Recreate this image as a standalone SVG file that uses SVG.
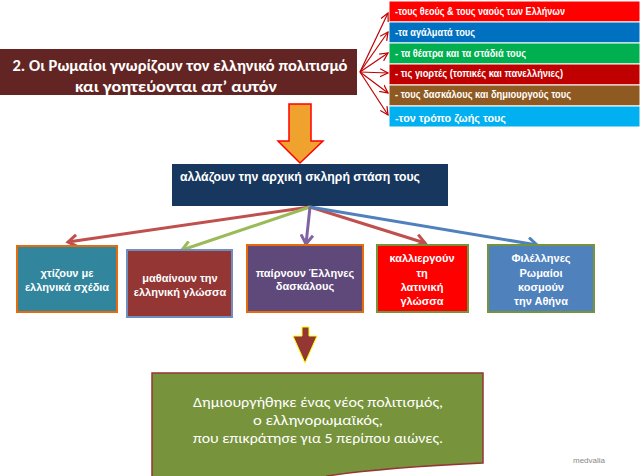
<svg xmlns="http://www.w3.org/2000/svg" width="640" height="476" viewBox="0 0 640 476">
<style>
.lt{font-family:"Liberation Sans Narrow","Liberation Sans",Arial,sans-serif;font-weight:bold;font-size:11px;fill:#fff}
.bt{font-family:"Liberation Sans",Arial,sans-serif;font-weight:bold;font-size:11px;fill:#fff;text-anchor:middle}
.fan{stroke:#C00000;stroke-width:1.2;fill:none}
.conn{stroke-width:3;fill:none}
</style>
<defs>
<marker id="mf" markerUnits="userSpaceOnUse" markerWidth="10" markerHeight="10" refX="8" refY="4" orient="auto" viewBox="0 0 10 8">
<path d="M0,0 L8,4 L0,8" fill="none" stroke="#C00000" stroke-width="1.2"/>
</marker>
<marker id="mr" markerUnits="userSpaceOnUse" markerWidth="14" markerHeight="14" refX="11" refY="7" orient="auto" viewBox="0 0 14 14">
<path d="M2,1 L11,7 L2,13" fill="none" stroke="#C0504D" stroke-width="3"/>
</marker>
<marker id="mg" markerUnits="userSpaceOnUse" markerWidth="14" markerHeight="14" refX="11" refY="7" orient="auto" viewBox="0 0 14 14">
<path d="M2,1 L11,7 L2,13" fill="none" stroke="#9BBB59" stroke-width="3"/>
</marker>
<marker id="mp" markerUnits="userSpaceOnUse" markerWidth="14" markerHeight="14" refX="11" refY="7" orient="auto" viewBox="0 0 14 14">
<path d="M2,1 L11,7 L2,13" fill="none" stroke="#8064A2" stroke-width="3"/>
</marker>
<marker id="mb" markerUnits="userSpaceOnUse" markerWidth="14" markerHeight="14" refX="11" refY="7" orient="auto" viewBox="0 0 14 14">
<path d="M2,1 L11,7 L2,13" fill="none" stroke="#4F81BD" stroke-width="3"/>
</marker>
</defs>
<rect width="640" height="476" fill="#fff"/>

<g id="title">
<rect x="0" y="49" width="357" height="46" fill="#632523"/>
<text x="180" y="71" text-anchor="middle" font-family="Carlito,'Liberation Sans',Arial,sans-serif" font-weight="bold" font-size="15" fill="#fff" textLength="335" lengthAdjust="spacingAndGlyphs">2. Οι Ρωμαίοι γνωρίζουν τον ελληνικό πολιτισμό</text>
<text x="176" y="92" text-anchor="middle" font-family="Carlito,'Liberation Sans',Arial,sans-serif" font-weight="bold" font-size="15" fill="#fff" textLength="202" lengthAdjust="spacingAndGlyphs">και  γοητεύονται απ’ αυτόν</text>
</g>

<g id="list">
<rect x="389" y="1" width="251" height="21" fill="#FF0000" stroke="#fff" stroke-width="1"/>
<rect x="389" y="22" width="251" height="21" fill="#0070C0" stroke="#fff" stroke-width="1"/>
<rect x="389" y="43" width="251" height="21" fill="#00B050" stroke="#fff" stroke-width="1"/>
<rect x="389" y="64" width="251" height="21" fill="#C00000" stroke="#fff" stroke-width="1"/>
<rect x="389" y="85" width="251" height="21" fill="#8F5A22" stroke="#fff" stroke-width="1"/>
<rect x="389" y="106" width="251" height="21" fill="#00B0F0" stroke="#fff" stroke-width="1"/>
<text class="lt" x="395" y="15" textLength="170" lengthAdjust="spacingAndGlyphs">-τους θεούς &amp; τους ναούς των Ελλήνων</text>
<text class="lt" x="395" y="36" textLength="80" lengthAdjust="spacingAndGlyphs">-τα αγάλματά τους</text>
<text class="lt" x="395" y="57" textLength="131" lengthAdjust="spacingAndGlyphs">- τα θέατρα και τα στάδιά τους</text>
<text class="lt" x="395" y="77" textLength="168" lengthAdjust="spacingAndGlyphs">- τις  γιορτές (τοπικές και πανελλήνιες)</text>
<text class="lt" x="395" y="98" textLength="176" lengthAdjust="spacingAndGlyphs">- τους  δασκάλους και δημιουργούς τους</text>
<text class="lt" x="395" y="122" font-size="13" textLength="111" lengthAdjust="spacingAndGlyphs">-τον τρόπο ζωής τους</text>
</g>

<g id="arrow1">
<path d="M289,104 H311 V141 H323 L300,163 L278,141 H289 Z" fill="#F0A22E" stroke="#FF0000" stroke-width="1.5"/>
</g>

<g id="change">
<rect x="172" y="164" width="276" height="42" fill="#17375E"/>
<text x="180" y="181" font-family="'Liberation Sans',Arial,sans-serif" font-weight="bold" font-size="12" fill="#fff" textLength="240" lengthAdjust="spacingAndGlyphs">αλλάζουν την αρχική σκληρή στάση τους</text>
</g>

<g id="connectors">
<line class="fan" x1="360" y1="72" x2="388" y2="13" marker-end="url(#mf)"/>
<line class="fan" x1="360" y1="72" x2="388" y2="32" marker-end="url(#mf)"/>
<line class="fan" x1="360" y1="72" x2="388" y2="53" marker-end="url(#mf)"/>
<line class="fan" x1="360" y1="72" x2="388" y2="73" marker-end="url(#mf)"/>
<line class="fan" x1="360" y1="72" x2="388" y2="93" marker-end="url(#mf)"/>
<line class="fan" x1="360" y1="72" x2="388" y2="115" marker-end="url(#mf)"/>
<line class="conn" stroke="#C0504D" x1="310" y1="207" x2="68" y2="242" marker-end="url(#mr)"/>
<line class="conn" stroke="#9BBB59" x1="310" y1="207" x2="182" y2="250" marker-end="url(#mg)"/>
<line class="conn" stroke="#8064A2" x1="310" y1="207" x2="306" y2="244" marker-end="url(#mp)"/>
<line class="conn" stroke="#C0504D" x1="310" y1="207" x2="425" y2="243" marker-end="url(#mr)"/>
<line class="conn" stroke="#4F81BD" x1="310" y1="207" x2="537" y2="245" marker-end="url(#mb)"/>
</g>

<g id="b1">
<rect x="17" y="246" width="100" height="66" fill="#31859C" stroke="#E46C0A" stroke-width="2"/>
<text class="bt" x="67" y="277">χτίζουν με</text>
<text class="bt" x="67" y="291">ελληνικά σχέδια</text>
</g>
<g id="b2">
<rect x="127" y="250" width="105" height="67" fill="#943634" stroke="#6F8FC0" stroke-width="2"/>
<text class="bt" x="180" y="282">μαθαίνουν την</text>
<text class="bt" x="180" y="296">ελληνική γλώσσα</text>
</g>
<g id="b3">
<rect x="247" y="245" width="116" height="67" fill="#5F497A" stroke="#E46C0A" stroke-width="2"/>
<text class="bt" x="305" y="277">παίρνουν  Έλληνες</text>
<text class="bt" x="305" y="290">δασκάλους</text>
</g>
<g id="b4">
<rect x="377" y="245" width="91" height="67" fill="#FF0000" stroke="#77933C" stroke-width="2"/>
<text class="bt" x="422" y="262">καλλιεργούν</text>
<text class="bt" x="422" y="277">τη</text>
<text class="bt" x="422" y="291">λατινική</text>
<text class="bt" x="422" y="305">γλώσσα</text>
</g>
<g id="b5">
<rect x="488" y="245" width="106" height="67" fill="#4F81BD" stroke="#77933C" stroke-width="2"/>
<text class="bt" x="541" y="262">Φιλέλληνες</text>
<text class="bt" x="541" y="277">Ρωμαίοι</text>
<text class="bt" x="541" y="291">κοσμούν</text>
<text class="bt" x="541" y="305">την Αθήνα</text>
</g>

<g id="arrow2">
<path d="M302,327 H309 V336 H317 L305,363 L293,336 H302 Z" fill="#943634" stroke="#FFFF00" stroke-width="1"/>
</g>

<g id="result">
<path d="M152,373 H483 V463 C440,465 380,468 327,476 L327,480 L152,480 Z" fill="#77933C" stroke="#943634" stroke-width="1.5"/>
<text x="318" y="407" text-anchor="middle" font-family="Carlito,'Liberation Sans',Arial,sans-serif" font-size="14" fill="#fff" textLength="250" lengthAdjust="spacingAndGlyphs">Δημιουργήθηκε ένας νέος πολιτισμός,</text>
<text x="318" y="425" text-anchor="middle" font-family="Carlito,'Liberation Sans',Arial,sans-serif" font-size="14" fill="#fff" textLength="130" lengthAdjust="spacingAndGlyphs">ο ελληνορωμαϊκός,</text>
<text x="318" y="443" text-anchor="middle" font-family="Carlito,'Liberation Sans',Arial,sans-serif" font-size="14" fill="#fff" textLength="250" lengthAdjust="spacingAndGlyphs">που επικράτησε για 5 περίπου αιώνες.</text>
</g>

<text x="573" y="463" font-family="'Liberation Sans',Arial,sans-serif" font-size="8" fill="#888">medvalia</text>
</svg>
